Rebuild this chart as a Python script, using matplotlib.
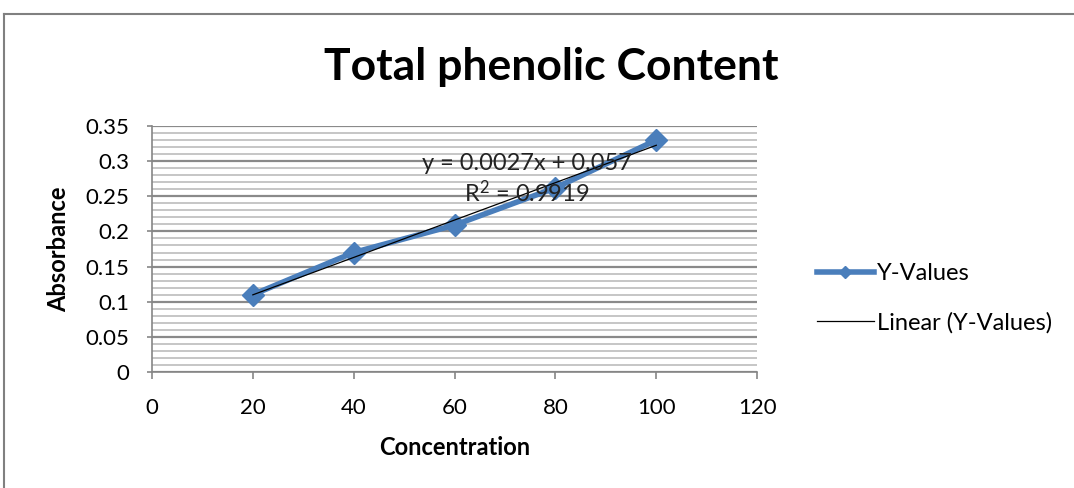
import numpy as np
import matplotlib.pyplot as plt
from matplotlib.lines import Line2D

# data
conc = [20, 40, 60, 80, 100]
absorb = [0.11, 0.17, 0.209, 0.262, 0.33]
eq_text = "y = 0.0027x + 0.057"
r2_text = "R$^2$ = 0.9919"

plt.rcParams['font.family'] = ['Lato', 'DejaVu Sans']
plt.rcParams['mathtext.default'] = 'regular'

fig = plt.figure(figsize=(10.74, 4.88), dpi=100)
ax = fig.add_axes([0.1415, 0.2377, 0.5635, 0.5041])

blue = '#4a7ebb'
ax.plot(conc, absorb, color=blue, lw=4, marker='D', ms=11, label='Y-Values', zorder=3)

# linear trendline
k, b = np.polyfit(conc, absorb, 1)
xx = np.array([conc[0], conc[-1]])
ax.plot(xx, k * xx + b, color='black', lw=0.9, label='Linear (Y-Values)', zorder=4)

ax.text(74.4, 0.2973, eq_text, fontsize=17, ha='center', va='center', color='#222222', zorder=5)
ax.text(74.4, 0.2547, r2_text, fontsize=17, ha='center', va='center', color='#222222', zorder=5)

ax.set_xlim(0, 120)
ax.set_ylim(0, 0.35)
ax.set_xticks(range(0, 121, 20))
ax.set_yticks(np.arange(0, 0.351, 0.05))
ax.set_yticklabels(['0', '0.05', '0.1', '0.15', '0.2', '0.25', '0.3', '0.35'])
ax.set_yticks(np.arange(0, 0.351, 0.01), minor=True)
ax.tick_params(axis='y', which='minor', length=0)
ax.tick_params(axis='both', which='major', labelsize=16, color='#868686', width=1.2)
ax.tick_params(axis='x', which='major', length=5, pad=14)
ax.tick_params(axis='y', which='major', length=3.6, pad=13)
ax.grid(True, axis='y', which='major', color='#8a8a8a', lw=1.6)
ax.grid(True, axis='y', which='minor', color='#bcbcbc', lw=1.2)
ax.set_axisbelow(True)
for s in ['top', 'right']:
    ax.spines[s].set_visible(False)
for s in ['left', 'bottom']:
    ax.spines[s].set_color('#868686')
    ax.spines[s].set_linewidth(1.2)

ax.set_xlabel('Concentration', fontsize=17, fontweight='bold', va='center')
ax.set_ylabel('Absorbance', fontsize=17, fontweight='bold', va='center')
ax.xaxis.set_label_coords(0.5, -0.305)
ax.yaxis.set_label_coords(-0.155, 0.5)
fig.text(0.513, 0.836, 'Total phenolic Content', fontsize=32, fontweight='bold',
         ha='center', va='baseline')

ax.legend(loc='center left', bbox_to_anchor=(1.064, 0.3), frameon=False, fontsize=17,
          labelspacing=1.2, handlelength=2.4, handletextpad=0.15, markerscale=0.6)

# outer chart border
fig.add_artist(Line2D([0.004, 1.0], [0.971, 0.971], color='#808080', lw=1.5))
fig.add_artist(Line2D([0.004, 0.004], [0.0, 0.971], color='#808080', lw=1.5))

fig.savefig('out.png', dpi=100)
